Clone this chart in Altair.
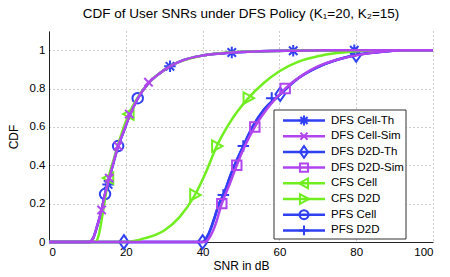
import altair as alt
import pandas as pd

# ---------------- data ----------------
series_names = ["DFS Cell-Th", "DFS Cell-Sim", "DFS D2D-Th", "DFS D2D-Sim",
                "CFS Cell", "CFS D2D", "PFS Cell", "PFS D2D"]
series_colors = ["#2f3ff2", "#b045f0", "#2f3ff2", "#b045f0",
                 "#70ee20", "#70ee20", "#2f3ff2", "#2f3ff2"]

# cellular users curve (DFS Th / DFS Sim / PFS cell nearly identical)
cell_x = [0, 10.5, 11.5, 12.5, 13.7, 14.6, 15.7, 17, 18, 19.5, 20.9, 23, 26,
          28.5, 31.5, 35, 40, 47.6, 55, 63.6, 72, 80, 100]
cell_y = [0, 0, 0.02, 0.08, 0.167, 0.25, 0.333, 0.43, 0.5, 0.58, 0.655, 0.745,
          0.83, 0.875, 0.916, 0.948, 0.972, 0.988, 0.994, 0.997, 0.999, 1, 1]

cfs_cell_x = [0, 12, 13, 14, 15.5, 17, 18.5, 20.8, 23, 26, 31.5, 40, 50, 65, 80, 100]
cfs_cell_y = [0, 0, 0.04, 0.15, 0.333, 0.44, 0.54, 0.667, 0.75, 0.83, 0.916,
              0.972, 0.992, 0.998, 1, 1]

d2d_th_x = [0, 40, 41.5, 43, 44.3, 45.4, 47.5, 50.6, 53, 56, 60.2, 65, 70, 75,
            80, 86, 92, 100]
d2d_th_y = [0, 0, 0.04, 0.12, 0.2, 0.245, 0.36, 0.5, 0.6, 0.69, 0.77, 0.855,
            0.912, 0.95, 0.975, 0.99, 1, 1]

d2d_sim_x = [0, 40.5, 42, 43.5, 45, 47, 48.9, 51, 53.6, 57, 61.5, 66, 70, 75,
             80, 86, 92, 100]
d2d_sim_y = [0, 0, 0.03, 0.1, 0.2, 0.3, 0.4, 0.5, 0.6, 0.7, 0.8, 0.87, 0.915,
             0.95, 0.973, 0.99, 1, 1]

cfs_d2d_x = [0, 20, 25, 30, 34, 38, 41, 43.7, 47, 51.9, 56, 60, 65, 70, 75, 80, 85, 100]
cfs_d2d_y = [0, 0, 0.02, 0.06, 0.13, 0.245, 0.37, 0.5, 0.62, 0.75, 0.83, 0.89,
             0.94, 0.968, 0.985, 0.995, 1, 1]

# marker positions
mk_dfs_cell_th_x = [15.4, 31.5, 47.6, 63.6, 79.5]
mk_dfs_cell_th_y = [0.3, 0.916, 0.988, 0.997, 1.0]
mk_dfs_cell_sim_x = [13.7, 15.7, 18, 20.9, 25.9]
mk_dfs_cell_sim_y = [0.167, 0.333, 0.5, 0.667, 0.833]
mk_dfs_d2d_th_x = [19.5, 40, 60.2, 80]
mk_dfs_d2d_th_y = [0, 0, 0.77, 0.975]
mk_dfs_d2d_sim_x = [45, 48.9, 53.6, 61.5]
mk_dfs_d2d_sim_y = [0.2, 0.4, 0.6, 0.8]
mk_cfs_cell_x = [15.5, 20.8]
mk_cfs_cell_y = [0.333, 0.667]
mk_cfs_d2d_x = [38, 43.7, 51.9]
mk_cfs_d2d_y = [0.245, 0.5, 0.75]
mk_pfs_cell_x = [14.6, 18, 23.1]
mk_pfs_cell_y = [0.25, 0.5, 0.75]
mk_pfs_d2d_x = [45.4, 50.6, 58]
mk_pfs_d2d_y = [0.245, 0.5, 0.75]

x_ticks = [0, 20, 40, 60, 80, 100]
y_ticks = [0, 0.2, 0.4, 0.6, 0.8, 1]

# ---------------- marker shapes (one per series) ----------------
AST = "M-1.1,0H1.1M0,-1.1V1.1M-0.8,-0.8L0.8,0.8M-0.8,0.8L0.8,-0.8"
XS = "M-0.8,-0.8L0.8,0.8M-0.8,0.8L0.8,-0.8"
DIA = "M0,-1.3L0.9,0L0,1.3L-0.9,0Z"
SQ = "M-0.9,-0.9H0.9V0.9H-0.9Z"
LTRI = "M-1.1,0L0.9,-1.1L0.9,1.1Z"
RTRI = "M1.1,0L-0.9,-1.1L-0.9,1.1Z"
CIRC = "M1,0A1,1,0,1,1,-1,0A1,1,0,1,1,1,0"
PLUS = "M-1.1,0H1.1M0,-1.1V1.1"
series_shapes = [AST, XS, DIA, SQ, LTRI, RTRI, CIRC, PLUS]

FONT = "Liberation Sans"

xs = alt.Scale(domain=[0, 100], nice=False, zero=False)
ys = alt.Scale(domain=[0, 1.1], nice=False, zero=False)
cs = alt.Scale(domain=series_names, range=series_colors)
ss = alt.Scale(domain=series_names, range=series_shapes)

X = alt.X("x:Q", scale=xs,
          axis=alt.Axis(values=x_ticks, title="SNR in dB", format="d"))
Y = alt.Y("y:Q", scale=ys,
          axis=alt.Axis(values=y_ticks, title="CDF",
                        labelExpr="datum.value == 0 ? '0' : datum.value == 1 ? '1' : format(datum.value, '.1f')"))
C = alt.Color("series:N", scale=cs, legend=None)
S = alt.Shape("series:N", scale=ss, legend=None)


def line_layer(name, xv, yv):
    df = pd.DataFrame({"x": xv, "y": yv, "series": name, "i": list(range(len(xv)))})
    return alt.Chart(df).mark_line(
        strokeWidth=2.5, interpolate="monotone"
    ).encode(x=X, y=Y, color=C, order=alt.Order("i:Q"))


def mark_layer(name, xv, yv):
    df = pd.DataFrame({"x": xv, "y": yv, "series": name})
    return alt.Chart(df).mark_point(
        filled=False, strokeWidth=2, size=110, opacity=1
    ).encode(x=X, y=Y, color=C, shape=S)


layers = [
    line_layer("DFS Cell-Th", cell_x, cell_y),
    mark_layer("DFS Cell-Th", mk_dfs_cell_th_x, mk_dfs_cell_th_y),
    line_layer("PFS Cell", cell_x, cell_y),
    mark_layer("PFS Cell", mk_pfs_cell_x, mk_pfs_cell_y),
    line_layer("DFS D2D-Th", d2d_th_x, d2d_th_y),
    mark_layer("DFS D2D-Th", mk_dfs_d2d_th_x, mk_dfs_d2d_th_y),
    line_layer("PFS D2D", d2d_th_x, d2d_th_y),
    mark_layer("PFS D2D", mk_pfs_d2d_x, mk_pfs_d2d_y),
    line_layer("CFS Cell", cfs_cell_x, cfs_cell_y),
    mark_layer("CFS Cell", mk_cfs_cell_x, mk_cfs_cell_y),
    line_layer("CFS D2D", cfs_d2d_x, cfs_d2d_y),
    mark_layer("CFS D2D", mk_cfs_d2d_x, mk_cfs_d2d_y),
    line_layer("DFS Cell-Sim", cell_x, cell_y),
    mark_layer("DFS Cell-Sim", mk_dfs_cell_sim_x, mk_dfs_cell_sim_y),
    line_layer("DFS D2D-Sim", d2d_sim_x, d2d_sim_y),
    mark_layer("DFS D2D-Sim", mk_dfs_d2d_sim_x, mk_dfs_d2d_sim_y),
]

# ---------------- legend box drawn inside the plot (pixel placement) ----------------
legend_df = pd.DataFrame({"series": series_names, "r": list(range(len(series_names)))})
PY = alt.Y("py:Q", scale=None)

leg_box = alt.Chart(pd.DataFrame({"a": [0]})).mark_rect(
    fill="white", stroke="#333", strokeWidth=1
).encode(x=alt.value(225), x2=alt.value(357), y=alt.value(79), y2=alt.value(208))

leg_base = alt.Chart(legend_df).transform_calculate(py="89.5 + datum.r * 15.7")
leg_lines = leg_base.mark_rule(strokeWidth=2.5).encode(
    x=alt.value(234), x2=alt.value(276), y=PY, color=C)
leg_marks = leg_base.mark_point(filled=False, strokeWidth=2, size=80, opacity=1).encode(
    x=alt.value(255), y=PY, color=C, shape=S)
leg_text = leg_base.mark_text(align="left", baseline="middle", font=FONT,
                              fontSize=11.5, color="black").encode(
    x=alt.value(282), y=PY, text="series:N")

chart = alt.layer(*layers, leg_box, leg_lines, leg_marks, leg_text).properties(
    width=384, height=211,
    autosize="none",
    padding={"left": 41, "top": 23, "right": 9, "bottom": 31},
    title=alt.TitleParams("CDF of User SNRs under DFS Policy (K\u2081=20, K\u2082=15)",
                          font=FONT, fontSize=13.5, fontWeight="normal",
                          color="black", offset=11, anchor="middle"),
).configure_view(stroke=None).configure_axis(
    labelFont=FONT, labelFontSize=11.5, labelColor="black",
    titleFont=FONT, titleFontSize=12, titleFontWeight="normal", titleColor="black",
    domainColor="#222", domainWidth=1, ticks=False,
    gridColor="#999", gridDash=[1, 3], gridWidth=1,
).configure_axisX(labelPadding=4, titlePadding=3).configure_axisY(
    labelPadding=4, titlePadding=9)

chart.save("out.html", embed_options={"renderer": "svg", "actions": False})
